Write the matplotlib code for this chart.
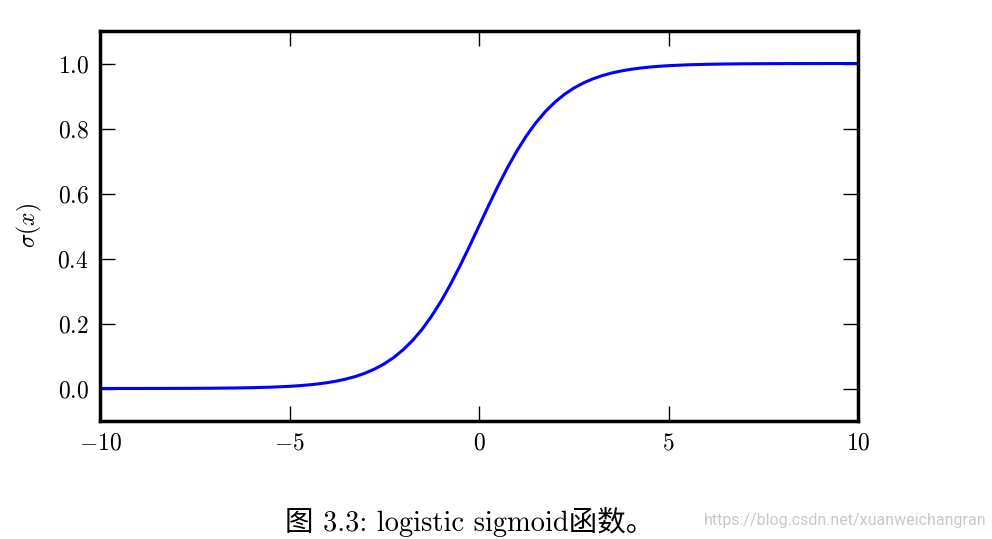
import matplotlib
matplotlib.use("Agg")
import matplotlib.pyplot as plt

plt.rcParams['font.family'] = ['cmr10']
plt.rcParams['mathtext.fontset'] = 'cm'
plt.rcParams['axes.formatter.use_mathtext'] = True

# values
x_vals = [-10.0, -9.5, -9.0, -8.5, -8.0, -7.5, -7.0, -6.5, -6.0, -5.5, -5.0,
          -4.75, -4.5, -4.25, -4.0, -3.75, -3.5, -3.25, -3.0, -2.75, -2.5,
          -2.25, -2.0, -1.75, -1.5, -1.25, -1.0, -0.75, -0.5, -0.25, 0.0,
          0.25, 0.5, 0.75, 1.0, 1.25, 1.5, 1.75, 2.0, 2.25, 2.5,
          2.75, 3.0, 3.25, 3.5, 3.75, 4.0, 4.25, 4.5, 4.75, 5.0,
          5.5, 6.0, 6.5, 7.0, 7.5, 8.0, 8.5, 9.0, 9.5, 10.0]
y_vals = [0.0000454, 0.0000749, 0.000123, 0.000203, 0.000335, 0.000553, 0.000911,
          0.001501, 0.002473, 0.004070, 0.006693,
          0.008577, 0.010987, 0.014064, 0.017986, 0.022977, 0.029312, 0.037327,
          0.047426, 0.060087, 0.075858, 0.095349, 0.119203, 0.148047, 0.182426,
          0.222700, 0.268941, 0.320821, 0.377541, 0.437823, 0.5,
          0.562177, 0.622459, 0.679179, 0.731059, 0.777300, 0.817574, 0.851953,
          0.880797, 0.904651, 0.924142, 0.939913, 0.952574, 0.962673, 0.970688,
          0.977023, 0.982014, 0.985936, 0.989013, 0.991423, 0.993307,
          0.995930, 0.997527, 0.998499, 0.999089, 0.999447, 0.999665, 0.999797,
          0.999877, 0.999925, 0.9999546]
x_ticks = [-10, -5, 0, 5, 10]
y_ticks = [0.0, 0.2, 0.4, 0.6, 0.8, 1.0]
caption = "图 3.3: logistic sigmoid函数。"
watermark = "https://blog.csdn.net/xuanweichangran"

fig = plt.figure(figsize=(9.92, 5.39), dpi=100)
ax = fig.add_axes([100/992, 1-421/539, 758/992, 390/539])
ax.plot(x_vals, y_vals, color='#0000ff', lw=2.2)
ax.set_xlim(-10, 10)
ax.set_ylim(-0.1, 1.1)
ax.set_xticks(x_ticks)
ax.set_yticks(y_ticks)
ax.set_yticklabels([f"${v:.1f}$" for v in y_ticks])
ax.set_xticklabels([f"${v}$" for v in x_ticks])
ax.tick_params(direction='in', length=11, width=1.0, top=True, right=True,
               labelsize=17, pad=8)
for s in ax.spines.values():
    s.set_linewidth(2.5)
ax.set_ylabel(r"$\sigma(x)$", fontsize=17, labelpad=10)

fig.text(470/992, 1-522/539, caption, ha='center', va='center', fontsize=20.5,
         family=['cmr10', 'Noto Sans CJK SC'])
fig.text(845/992, 1-521/539, watermark, ha='center', va='center', fontsize=11.5,
         color='#c8c8c8', family=['Liberation Sans Narrow', 'Roboto'])

fig.savefig("out.png", dpi=100)
